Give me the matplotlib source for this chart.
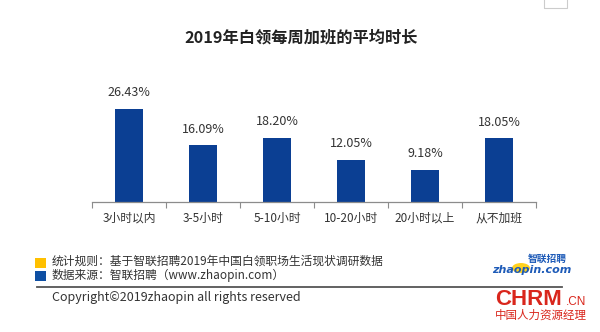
import matplotlib
matplotlib.use("Agg")
import matplotlib.pyplot as plt
from matplotlib.patches import Rectangle, Circle

plt.rcParams['font.family'] = ['Noto Sans CJK SC', 'DejaVu Sans']

# data
categories = ['3小时以内', '3-5小时', '5-10小时', '10-20小时', '20小时以上', '从不加班']
shares = [26.43, 16.09, 18.20, 12.05, 9.18, 18.05]
value_labels = ['26.43%', '16.09%', '18.20%', '12.05%', '9.18%', '18.05%']

title = '2019年白领每周加班的平均时长'
note_rule = '统计规则：基于智联招聘2019年中国白领职场生活现状调研数据'
note_source = '数据来源：智联招聘（www.zhaopin.com）'
copyright_text = 'Copyright©2019zhaopin all rights reserved'

W, H = 600, 332
BAR_BLUE = '#0B3F93'
TEXT = '#333333'


def fx(px):
    return px / W


def fy(py):
    return 1 - py / H


fig = plt.figure(figsize=(6, 3.32), dpi=100)
fig.patch.set_facecolor('white')

# axes: x boundaries 92..536 px, baseline at 202 px, 40% -> ~141 px
ax = fig.add_axes([fx(92), fy(202), (536 - 92) / W, 141 / H])
x = list(range(len(categories)))
ax.bar(x, shares, width=0.39, color=BAR_BLUE)
ax.set_xlim(-0.5, len(categories) - 0.5)
ax.set_ylim(0, 40)

for xi, v, lab in zip(x, shares, value_labels):
    ax.annotate(lab, (xi, v), xytext=(0, 11.5), textcoords='offset points',
                ha='center', va='center', fontsize=9, color=TEXT)

for s in ['top', 'right', 'left']:
    ax.spines[s].set_visible(False)
ax.spines['bottom'].set_color('#8c8c8c')
ax.spines['bottom'].set_linewidth(0.9)
ax.set_yticks([])
ax.set_xticks(x)
ax.set_xticklabels(categories, fontsize=8.5, color=TEXT)
ax.tick_params(axis='x', which='major', length=0, pad=7)
ax.set_xticks([i - 0.5 for i in range(len(categories) + 1)], minor=True)
ax.tick_params(axis='x', which='minor', length=4, width=0.8, color='#8c8c8c', direction='out')

fig.text(fx(301), fy(37), title, ha='center', va='center', fontsize=11.7,
         fontweight='bold', color='#222222')

# footer legend squares + notes
fig.patches.append(Rectangle((fx(35), fy(268)), 11 / W, 10 / H, transform=fig.transFigure,
                             facecolor='#FFC000', edgecolor='none'))
fig.patches.append(Rectangle((fx(35), fy(281)), 11 / W, 10 / H, transform=fig.transFigure,
                             facecolor='#0E4FA3', edgecolor='none'))
fig.text(fx(52), fy(261), note_rule, ha='left', va='center', fontsize=8.5, color=TEXT)
fig.text(fx(52), fy(275), note_source, ha='left', va='center', fontsize=8.5, color=TEXT)
fig.add_artist(plt.Line2D([fx(37), fx(562)], [fy(287), fy(287)], color='#555555', lw=1.3,
                          transform=fig.transFigure))
fig.text(fx(52), fy(297), copyright_text, ha='left', va='center', fontsize=9, color=TEXT)

# zhaopin logo
fig.patches.append(Circle((fx(521), fy(268)), 9 / W, transform=fig.transFigure,
                          facecolor='#FFD21F', edgecolor='none'))
fig.text(fx(547), fy(259), '智联招聘', ha='center', va='center', fontsize=7,
         color='#1E5BB8', fontweight='bold', style='italic')
fig.text(fx(532), fy(270), 'zhaopin.com', ha='center', va='center', fontsize=8,
         color='#1E5BB8', fontweight='bold', style='italic', family='DejaVu Sans')

# CHRM logo
fig.text(fx(495), fy(305), 'CHRM', ha='left', va='baseline', fontsize=16,
         fontweight='bold', color='#D9261C', family='Liberation Sans')
fig.text(fx(566), fy(305), '.CN', ha='left', va='baseline', fontsize=8.5,
         color='#D9261C', family='Liberation Sans')
fig.text(fx(541), fy(315), '中国人力资源经理', ha='center', va='center', fontsize=8.3,
         color='#D9261C')

# faint box at top right
fig.patches.append(Rectangle((fx(544), fy(8)), 23 / W, 10 / H, transform=fig.transFigure,
                             facecolor='none', edgecolor='#cccccc', lw=0.8))

fig.savefig('out.png', dpi=100, facecolor='white')
